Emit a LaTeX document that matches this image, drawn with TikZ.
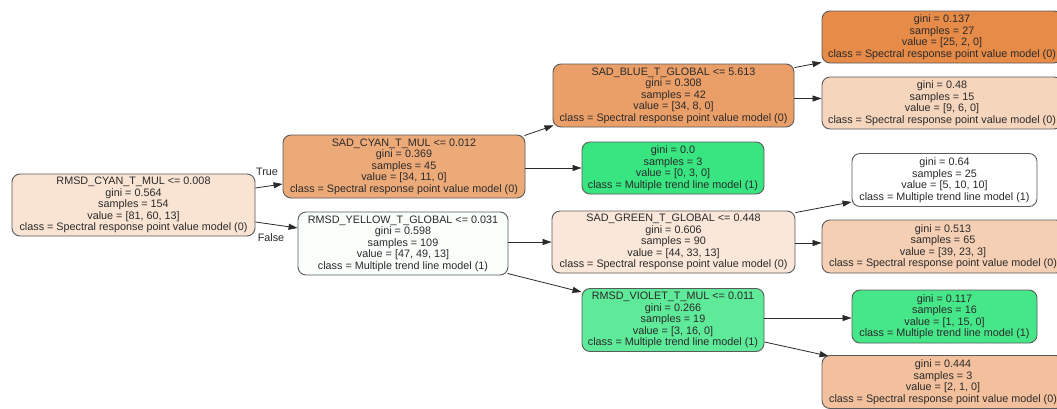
\documentclass[tikz,border=0pt]{standalone}
\usepackage{fontspec}
\setmainfont{Liberation Sans}
\usetikzlibrary{arrows.meta}

% node fills: orange = class 0, green = class 1, shade = purity
\definecolor{cRoot}{HTML}{F9E3D3}
\definecolor{cCyan}{HTML}{EDAA79}
\definecolor{cYellow}{HTML}{F9FEFB}
\definecolor{cBlue}{HTML}{EB9F68}
\definecolor{cPure}{HTML}{39E581}
\definecolor{cGreen}{HTML}{FAE7D9}
\definecolor{cViolet}{HTML}{5EEA99}
\definecolor{cLa}{HTML}{E78B49}
\definecolor{cLb}{HTML}{F6D5BD}
\definecolor{cLc}{HTML}{FFFFFF}
\definecolor{cLd}{HTML}{F5CFB4}
\definecolor{cLe}{HTML}{46E789}
\definecolor{cLf}{HTML}{F2C09C}
\definecolor{edgegray}{HTML}{5A5A5A}
\definecolor{inkcol}{HTML}{2A2A2A}

\tikzset{
  treebox/.style={draw=edgegray, line width=0.9pt, rounded corners=8pt,
    align=center, inner sep=0pt, text=inkcol,
    font=\fontsize{10.8}{11.5}\selectfont},
  splitbox/.style={treebox, minimum height=63pt},
  leafbox/.style={treebox, minimum height=52pt},
  link/.style={draw=inkcol, line width=0.8pt, -{Triangle[length=9pt,width=6pt]}},
  branchlabel/.style={text=inkcol, font=\fontsize{10.8}{11.5}\selectfont, inner sep=0pt}
}

\begin{document}
\begin{tikzpicture}[x=1pt, y=-1pt]
\clip (0,0) rectangle (1057,408);
\fill[white] (0,0) rectangle (1057,408);

% split nodes
\node[splitbox, fill=cRoot, minimum width=243pt, minimum height=62pt] (root) at (133.5,205)
  {RMSD\_CYAN\_T\_MUL <= 0.008\\gini = 0.564\\samples = 154\\value = [81, 60, 13]\\class = Spectral response point value model (0)};
\node[splitbox, fill=cCyan, minimum width=242pt] (cyan) at (404,166.5)
  {SAD\_CYAN\_T\_MUL <= 0.012\\gini = 0.369\\samples = 45\\value = [34, 11, 0]\\class = Spectral response point value model (0)};
\node[splitbox, fill=cYellow, minimum width=210pt] (yellow) at (403,243.5)
  {RMSD\_YELLOW\_T\_GLOBAL <= 0.031\\gini = 0.598\\samples = 109\\value = [47, 49, 13]\\class = Multiple trend line model (1)};
\node[splitbox, fill=cBlue, minimum width=241pt] (blue) at (673.5,95.5)
  {SAD\_BLUE\_T\_GLOBAL <= 5.613\\gini = 0.308\\samples = 42\\value = [34, 8, 0]\\class = Spectral response point value model (0)};
\node[leafbox, fill=cPure, minimum width=182pt] (pure) at (673,168)
  {gini = 0.0\\samples = 3\\value = [0, 3, 0]\\class = Multiple trend line model (1)};
\node[splitbox, fill=cGreen, minimum width=243pt, minimum height=62pt] (green) at (673.5,242)
  {SAD\_GREEN\_T\_GLOBAL <= 0.448\\gini = 0.606\\samples = 90\\value = [44, 33, 13]\\class = Spectral response point value model (0)};
\node[splitbox, fill=cViolet, minimum width=182pt] (violet) at (673,320)
  {RMSD\_VIOLET\_T\_MUL <= 0.011\\gini = 0.266\\samples = 19\\value = [3, 16, 0]\\class = Multiple trend line model (1)};

% leaves
\node[leafbox, fill=cLa, minimum width=240pt] (la) at (942,37)
  {gini = 0.137\\samples = 27\\value = [25, 2, 0]\\class = Spectral response point value model (0)};
\node[leafbox, fill=cLb, minimum width=240pt] (lb) at (942,103)
  {gini = 0.48\\samples = 15\\value = [9, 6, 0]\\class = Spectral response point value model (0)};
\node[leafbox, fill=cLc, minimum width=185pt, minimum height=53pt] (lc) at (944.5,180)
  {gini = 0.64\\samples = 25\\value = [5, 10, 10]\\class = Multiple trend line model (1)};
\node[leafbox, fill=cLd, minimum width=242pt, minimum height=53pt] (ld) at (943,246.5)
  {gini = 0.513\\samples = 65\\value = [39, 23, 3]\\class = Spectral response point value model (0)};
\node[leafbox, fill=cLe, minimum width=185pt, minimum height=53pt] (le) at (944.5,316.5)
  {gini = 0.117\\samples = 16\\value = [1, 15, 0]\\class = Multiple trend line model (1)};
\node[leafbox, fill=cLf, minimum width=242pt, minimum height=53pt] (lf) at (943,382)
  {gini = 0.444\\samples = 3\\value = [2, 1, 0]\\class = Spectral response point value model (0)};

% branches
\draw[link] ([yshift=17pt]root.east) -- ([yshift=-17.5pt]cyan.west);
\draw[link] ([yshift=-17pt]root.east) -- ([yshift=15.5pt]yellow.west);
\node[branchlabel] (truelab) at (267,172) {True};
\node[branchlabel] (falselab) at (271,238) {False};

\draw[link] ([xshift=-1pt,yshift=-1pt]cyan.north east) -- ([xshift=1pt,yshift=2pt]blue.south west);
\draw[link] (cyan.east |- pure.west) -- (pure.west);
\draw[link] (yellow.east |- green.west) -- (green.west);
\draw[link] ([xshift=-1pt,yshift=2pt]yellow.south east) -- ([yshift=-4pt]violet.north west);

\draw[link] ([yshift=-4pt]blue.north east) -- ([yshift=1pt]la.south west);
\draw[link] ([yshift=-3pt]blue.east) -- ([yshift=4.5pt]lb.west);
\draw[link] ([yshift=-2pt]green.north east) -- ([yshift=5pt]lc.south west);
\draw[link] ([yshift=-1pt]green.east) -- ([yshift=3.5pt]ld.west);
\draw[link] ([yshift=2pt]violet.east) -- ([yshift=-1.5pt]le.west);
\draw[link] ([yshift=10pt]violet.south east) -- ([xshift=7pt,yshift=-1pt]lf.north west);
\end{tikzpicture}
\end{document}
